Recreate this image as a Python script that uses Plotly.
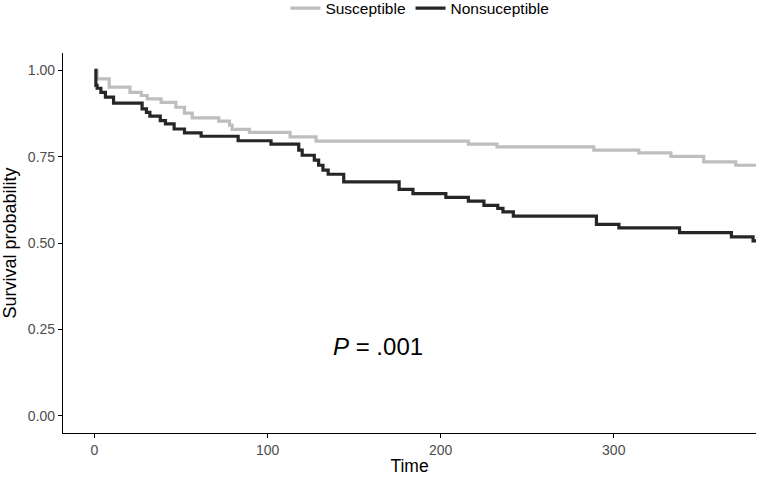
import plotly.graph_objects as go

# Kaplan-Meier step data
sus_time = [0, 1.5, 8.5, 20.5, 27, 30.5, 38.5, 47, 52, 56.5, 71.8, 78, 79.5, 89.5, 113, 128,
            216, 232.6, 288.5, 314.5, 333, 352, 370.5, 395]
sus_surv = [1.0, 0.975, 0.951, 0.936, 0.927, 0.917, 0.907, 0.893, 0.876, 0.862, 0.853, 0.841, 0.829,
            0.820, 0.807, 0.795, 0.786, 0.778, 0.769, 0.761, 0.751, 0.735, 0.725, 0.725]

non_time = [0, 0.8, 1.5, 3.7, 6.3, 11, 27.5, 30, 32, 38, 41, 46, 52, 61.6, 83, 102, 118, 120, 127,
            129.5, 132, 135, 144, 176, 184, 203, 216, 225, 233, 236, 242, 290, 303, 338, 368, 380.5, 395]
non_surv = [1.0, 0.956, 0.948, 0.936, 0.922, 0.905, 0.888, 0.878, 0.867, 0.854, 0.845, 0.830, 0.819,
            0.809, 0.796, 0.786, 0.769, 0.754, 0.740, 0.725, 0.711, 0.699, 0.677, 0.655, 0.643, 0.632,
            0.621, 0.609, 0.600, 0.590, 0.578, 0.554, 0.544, 0.530, 0.518, 0.506, 0.506]

series_names = ["Susceptible", "Nonsuceptible"]
series_colors = ["#BEBEBE", "#262626"]

x_ticks = [0, 100, 200, 300]
y_ticks = [0, 0.25, 0.5, 0.75, 1.0]
y_tick_labels = ["0.00", "0.25", "0.50", "0.75", "1.00"]

p_text = "<i>P</i> = .001"
p_pos = (164, 0.2)

FONT = "Liberation Sans, Arial, Helvetica, sans-serif"

fig = go.Figure()
for name, xs, ys, col in [(series_names[0], sus_time, sus_surv, series_colors[0]),
                          (series_names[1], non_time, non_surv, series_colors[1])]:
    fig.add_trace(go.Scatter(x=xs, y=ys, mode="lines", name=name,
                             line=dict(shape="hv", color=col, width=3.2)))

fig.add_annotation(x=p_pos[0], y=p_pos[1], text=p_text, showarrow=False,
                   font=dict(size=24, color="#000000", family=FONT))

axis_common = dict(showgrid=False, zeroline=False, showline=True, linecolor="#000000",
                   linewidth=1.2, ticks="outside", ticklen=4, tickcolor="#000000", tickwidth=1.1,
                   tickfont=dict(size=14, color="#4D4D4D", family=FONT), mirror=False,
                   automargin=False)

fig.update_layout(
    width=760, height=478,
    paper_bgcolor="white", plot_bgcolor="white",
    margin=dict(l=63, r=4, t=53, b=45, autoexpand=False),
    font=dict(family=FONT, color="#000000"),
    showlegend=True,
    legend=dict(orientation="h", x=0.515, xanchor="center", y=1.117, yanchor="middle",
                font=dict(size=15.5, color="#000000", family=FONT), bgcolor="rgba(0,0,0,0)"),
    xaxis=dict(range=[-18.2, 382.2], tickvals=x_ticks,
               title=dict(text="Time", font=dict(size=17.5, family=FONT), standoff=2),
               **axis_common),
    yaxis=dict(range=[-0.05, 1.05], tickvals=y_ticks, ticktext=y_tick_labels,
               title=dict(text="Survival probability", font=dict(size=18, family=FONT), standoff=7),
               **axis_common),
)

fig.write_html("out.html", config={"displayModeBar": False},
               post_script="document.body.style.margin='0';document.body.style.overflow='hidden';")
